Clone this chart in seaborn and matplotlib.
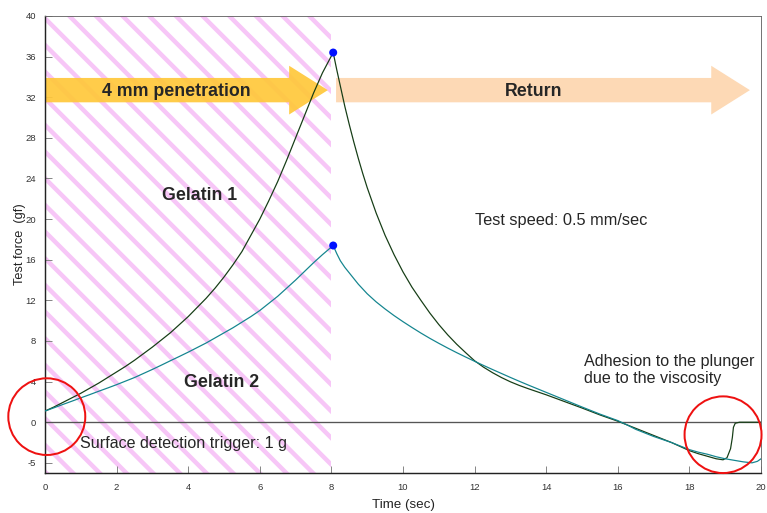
"""
Texture analyser trace: penetration / return of two gelatin samples
"""
import pandas as pd
import matplotlib.pyplot as plt
from matplotlib.patches import Ellipse
import seaborn as sns

# readings taken off the trace (time in sec, force in gf)
time_rise = [0, 0.25, 0.5, 0.75, 1, 1.25, 1.5, 1.75, 2, 2.25, 2.5, 2.75, 3, 3.25, 3.5, 3.75,
             4, 4.25, 4.5, 4.75, 5, 5.25, 5.5, 5.75, 6, 6.25, 6.5, 6.75, 7, 7.25, 7.5, 7.75, 8.05]

force_g1_rise = [1.1, 1.5, 1.95, 2.4, 2.85, 3.35, 3.85, 4.4, 4.95, 5.5, 6.1, 6.75, 7.4, 8.1, 8.8, 9.6,
                 10.4, 11.3, 12.2, 13.2, 14.3, 15.5, 16.8, 18.4, 20.0, 21.8, 23.7, 25.8, 28.0, 30.2, 32.4, 34.4, 36.4]
time_g1_return = [8.15, 8.25, 8.375, 8.5, 8.625, 8.75, 8.875, 9, 9.25, 9.5, 9.75, 10, 10.25, 10.5, 10.75,
                  11, 11.25, 11.5, 11.75, 12, 12.25, 12.5, 12.75, 13, 13.25, 13.5, 13.75, 14, 14.5, 15, 15.5, 16,
                  16.25, 16.5, 16.75, 17, 17.25, 17.5, 17.75, 18, 18.25, 18.5, 18.75, 18.94, 19.05, 19.15,
                  19.2, 19.23, 19.28, 19.4, 20]
force_g1_return = [34.7, 33.1, 31.1, 29.3, 27.6, 26.0, 24.5, 23.1, 20.6, 18.4, 16.5, 14.8, 13.3, 12.0, 10.75,
                   9.62, 8.6, 7.68, 6.85, 6.05, 5.42, 4.88, 4.4, 3.98, 3.62, 3.3, 3.0, 2.7, 2.05, 1.4, 0.72, 0.1,
                   -0.25, -0.6, -0.95, -1.3, -1.65, -2.0, -2.4, -2.8, -3.1, -3.35, -3.6, -3.7, -3.5, -2.6,
                   -1.5, -0.5, -0.1, 0.0, 0.0]

force_g2_rise = [1.1, 1.42, 1.75, 2.07, 2.4, 2.72, 3.05, 3.37, 3.7, 4.05, 4.4, 4.8, 5.2, 5.62, 6.05, 6.47,
                 6.9, 7.35, 7.8, 8.3, 8.8, 9.3, 9.85, 10.4, 11.0, 11.7, 12.4, 13.2, 14.0, 14.85, 15.7, 16.5, 17.4]
time_g2_return = [8.15, 8.25, 8.375, 8.5, 8.75, 9, 9.25, 9.5, 9.75, 10, 10.25, 10.5, 10.75, 11, 11.25,
                  11.5, 11.75, 12, 12.25, 12.5, 12.75, 13, 13.25, 13.5, 13.75, 14, 14.5, 15, 15.5, 16,
                  16.25, 16.5, 16.75, 17, 17.25, 17.5, 17.75, 18, 18.25, 18.5, 18.75, 19, 19.25, 19.5,
                  19.75, 19.9, 20]
force_g2_return = [16.6, 15.9, 15.25, 14.7, 13.6, 12.65, 11.85, 11.15, 10.5, 9.9, 9.33, 8.78, 8.26, 7.77, 7.3,
                   6.85, 6.42, 6.0, 5.59, 5.19, 4.8, 4.41, 4.03, 3.66, 3.3, 2.94, 2.22, 1.5, 0.8, 0.16,
                   -0.25, -0.7, -1.05, -1.4, -1.7, -2.0, -2.35, -2.7, -2.95, -3.15, -3.4, -3.6, -3.75, -3.9,
                   -4.0, -3.85, -3.6]

x_ticks = [0, 2, 4, 6, 8, 10, 12, 14, 16, 18, 20]
y_ticks = [-4, 0, 4, 8, 12, 16, 20, 24, 28, 32, 36, 40]
y_tick_labels = ["-5", "0", "4", "8", "12", "16", "20", "24", "28", "32", "36", "40"]

df = pd.concat([
    pd.DataFrame({"time": time_rise + time_g1_return,
                  "force": force_g1_rise + force_g1_return, "sample": "Gelatin 1"}),
    pd.DataFrame({"time": time_rise + time_g2_return,
                  "force": force_g2_rise + force_g2_return, "sample": "Gelatin 2"}),
], ignore_index=True)
peaks = df.loc[df.groupby("sample")["force"].idxmax()]

sns.set_theme(style="white")
plt.rcParams["font.family"] = ["Liberation Sans", "DejaVu Sans"]
plt.rcParams["hatch.linewidth"] = 4.0

fig = plt.figure(figsize=(767 / 80, 513 / 80), dpi=80)
ax = fig.add_axes([45 / 767, 40 / 513, 716 / 767, 457 / 513])

# penetration phase shading
ax.axvspan(0, 8, facecolor="white", edgecolor="#F7C6F7", hatch="\\", linewidth=0, zorder=0)
ax.axhline(0, color="#555555", lw=1.2, zorder=1)

# phase arrows
ax.arrow(0, 32.7, 7.9, 0, width=2.4, head_width=4.8, head_length=1.08,
         length_includes_head=True, color="#FFC83A", alpha=0.92, lw=0, zorder=2)
ax.arrow(8.13, 32.7, 11.56, 0, width=2.4, head_width=4.8, head_length=1.08,
         length_includes_head=True, color="#FDD9B5", lw=0, zorder=2)

sns.lineplot(data=df, x="time", y="force", hue="sample",
             palette={"Gelatin 1": "#163d16", "Gelatin 2": "#14858f"},
             estimator=None, sort=False, legend=False, lw=1.1, ax=ax, zorder=4)
sns.scatterplot(data=peaks, x="time", y="force", color="#0010FF", s=52,
                edgecolor="none", zorder=5, ax=ax)

ax.text(3.66, 32.6, "4 mm penetration", ha="center", va="center", fontsize=16, fontweight="bold", zorder=3)
ax.text(13.66, 32.6, "Return", ha="center", va="center", fontsize=16, fontweight="bold", zorder=3)
ax.text(4.33, 22.3, "Gelatin 1", ha="center", va="center", fontsize=16, fontweight="bold")
ax.text(4.94, 3.95, "Gelatin 2", ha="center", va="center", fontsize=16, fontweight="bold")
ax.text(12.01, 19.9, "Test speed: 0.5 mm/sec", ha="left", va="center", fontsize=14.7)
ax.text(15.06, 5.15, "Adhesion to the plunger\ndue to the viscosity", ha="left", va="center", fontsize=14.5)
ax.text(0.98, -2.13, "Surface detection trigger: 1 g", ha="left", va="center", fontsize=14.5)

# highlight circles
for cx, cy in [(0.05, 0.55), (18.94, -1.23)]:
    ax.add_patch(Ellipse((cx, cy), 2.15, 7.55, fill=False, edgecolor="#EE1111",
                         lw=1.8, clip_on=False, zorder=6))

ax.set_xlim(0, 20)
ax.set_ylim(-5, 40)
ax.set_xticks(x_ticks)
ax.set_yticks(y_ticks)
ax.set_yticklabels(y_tick_labels)
ax.tick_params(direction="in", bottom=True, left=True, length=6.5, width=0.9,
               color="#888888", labelsize=8.5, labelcolor="#333333")
ax.tick_params(axis="y", pad=8)
ax.tick_params(axis="x", pad=9)
for side in ["left", "bottom"]:
    ax.spines[side].set_color("#222222")
    ax.spines[side].set_linewidth(1.3)
for side in ["top", "right"]:
    ax.spines[side].set_color("#666666")
    ax.spines[side].set_linewidth(0.8)

ax.set_xlabel("Time (sec)", fontsize=12, color="#222222")
ax.set_ylabel("Test force  (gf)", fontsize=11.5, color="#222222")
ax.xaxis.set_label_coords(0.5, -0.056)
ax.yaxis.set_label_coords(-0.027, 0.5)

fig.savefig("out.png", dpi=80)
plt.close()
